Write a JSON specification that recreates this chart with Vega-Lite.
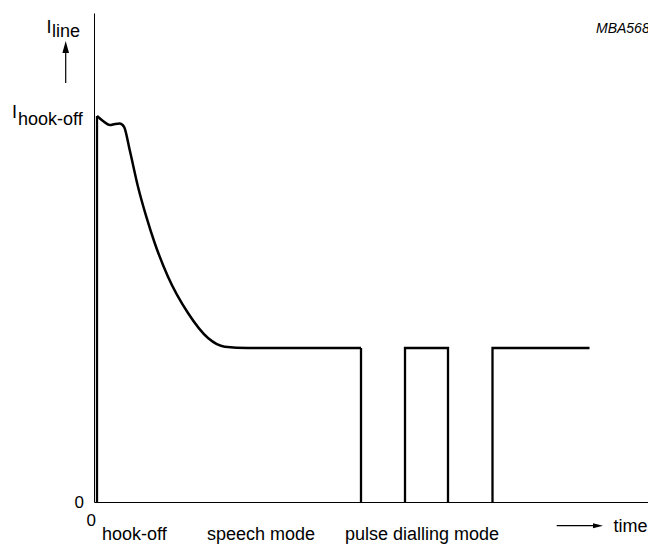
{
  "$schema": "https://vega.github.io/schema/vega-lite/v6.json",
  "autosize": "none",
  "width": 554,
  "height": 489,
  "padding": {"left": 94, "top": 13, "right": 0, "bottom": 42},
  "background": "white",
  "config": {
    "view": {"stroke": null},
    "font": "Liberation Sans",
    "text": {"font": "Liberation Sans", "color": "black"}
  },
  "datasets": {
    "signal": [
      {"seg": "rise", "order": 1, "t": 3, "i": 0},
      {"seg": "rise", "order": 2, "t": 3, "i": 386},
      {"seg": "curve", "order": 1, "t": 3, "i": 386},
      {"seg": "curve", "order": 2, "t": 9, "i": 381},
      {"seg": "curve", "order": 3, "t": 15.7, "i": 377},
      {"seg": "curve", "order": 4, "t": 21, "i": 378},
      {"seg": "curve", "order": 5, "t": 25.7, "i": 378.5},
      {"seg": "curve", "order": 6, "t": 30, "i": 375.3},
      {"seg": "curve", "order": 7, "t": 35.7, "i": 352},
      {"seg": "curve", "order": 8, "t": 44, "i": 315.3},
      {"seg": "curve", "order": 9, "t": 52.3, "i": 285.3},
      {"seg": "curve", "order": 10, "t": 60.7, "i": 259},
      {"seg": "curve", "order": 11, "t": 74, "i": 225.3},
      {"seg": "curve", "order": 12, "t": 94, "i": 189},
      {"seg": "curve", "order": 13, "t": 114, "i": 164},
      {"seg": "curve", "order": 14, "t": 130.7, "i": 155.3},
      {"seg": "curve", "order": 15, "t": 154, "i": 154},
      {"seg": "curve", "order": 16, "t": 267, "i": 154},
      {"seg": "p1", "order": 1, "t": 267, "i": 154},
      {"seg": "p1", "order": 2, "t": 267, "i": 0},
      {"seg": "p2", "order": 1, "t": 311, "i": 0},
      {"seg": "p2", "order": 2, "t": 311, "i": 154},
      {"seg": "p2", "order": 3, "t": 354, "i": 154},
      {"seg": "p2", "order": 4, "t": 354, "i": 0},
      {"seg": "p3", "order": 1, "t": 398.5, "i": 0},
      {"seg": "p3", "order": 2, "t": 398.5, "i": 154},
      {"seg": "p3", "order": 3, "t": 495.5, "i": 154}
    ],
    "labels": [
      {"label": "I", "t": -47.5, "i": 469.5},
      {"label": "line", "t": -42, "i": 465.5},
      {"label": "I", "t": -82, "i": 383.7},
      {"label": "hook-off", "t": -76, "i": 377},
      {"label": "hook-off", "t": 8, "i": -37.5},
      {"label": "speech mode", "t": 113, "i": -37.5},
      {"label": "pulse dialling mode", "t": 251, "i": -37.5},
      {"label": "time", "t": 519.5, "i": -29.7}
    ],
    "zeros": [
      {"label": "0", "t": -2.7, "i": -24, "axis": "x"},
      {"label": "0", "t": -10, "i": -0.5, "axis": "y"}
    ],
    "code": [
      {"label": "MBA568", "t": 502, "i": 468.7}
    ],
    "arrowsV": [
      {"t": -28.3, "i": 419, "i2": 452}
    ],
    "arrowsH": [
      {"t": 462.7, "t2": 501, "i": -23.7}
    ],
    "headUp": [
      {"t": -28.3, "i": 455}
    ],
    "headRight": [
      {"t": 504, "i": -23.7}
    ]
  },
  "layer": [
    {
      "data": {"name": "signal"},
      "transform": [{"filter": "datum.seg === 'curve'"}],
      "mark": {"type": "line", "interpolate": "monotone", "color": "black", "strokeWidth": 2.5, "clip": false},
      "encoding": {
        "x": {"field": "t", "type": "quantitative", "scale": {"domain": [0, 554], "nice": false, "zero": false},
          "axis": {"values": [0], "ticks": false, "labels": false, "grid": false, "title": null, "domainColor": "black", "domainWidth": 1}},
        "y": {"field": "i", "type": "quantitative", "scale": {"domain": [0, 489], "nice": false, "zero": false},
          "axis": {"values": [0], "ticks": false, "labels": false, "grid": false, "title": null, "domainColor": "black", "domainWidth": 1}},
        "order": {"field": "order"}
      }
    },
    {
      "data": {"name": "signal"},
      "transform": [{"filter": "datum.seg !== 'curve'"}],
      "mark": {"type": "line", "interpolate": "linear", "color": "black", "strokeWidth": 2.3, "clip": false},
      "encoding": {
        "x": {"field": "t", "type": "quantitative"},
        "y": {"field": "i", "type": "quantitative"},
        "detail": {"field": "seg"},
        "order": {"field": "order"}
      }
    },
    {
      "data": {"name": "labels"},
      "mark": {"type": "text", "align": "left", "baseline": "alphabetic", "fontSize": 18, "color": "black"},
      "encoding": {
        "x": {"field": "t", "type": "quantitative"},
        "y": {"field": "i", "type": "quantitative"},
        "text": {"field": "label"}
      }
    },
    {
      "data": {"name": "zeros"},
      "transform": [{"filter": "datum.axis === 'x'"}],
      "mark": {"type": "text", "align": "center", "baseline": "alphabetic", "fontSize": 17, "color": "black"},
      "encoding": {
        "x": {"field": "t", "type": "quantitative"},
        "y": {"field": "i", "type": "quantitative"},
        "text": {"field": "label"}
      }
    },
    {
      "data": {"name": "zeros"},
      "transform": [{"filter": "datum.axis === 'y'"}],
      "mark": {"type": "text", "align": "right", "baseline": "middle", "fontSize": 17, "color": "black"},
      "encoding": {
        "x": {"field": "t", "type": "quantitative"},
        "y": {"field": "i", "type": "quantitative"},
        "text": {"field": "label"}
      }
    },
    {
      "data": {"name": "code"},
      "mark": {"type": "text", "align": "left", "baseline": "alphabetic", "fontSize": 14, "fontStyle": "italic", "color": "black"},
      "encoding": {
        "x": {"field": "t", "type": "quantitative"},
        "y": {"field": "i", "type": "quantitative"},
        "text": {"field": "label"}
      }
    },
    {
      "data": {"name": "arrowsV"},
      "mark": {"type": "rule", "color": "black", "strokeWidth": 1.2},
      "encoding": {
        "x": {"field": "t", "type": "quantitative"},
        "y": {"field": "i", "type": "quantitative"},
        "y2": {"field": "i2"}
      }
    },
    {
      "data": {"name": "arrowsH"},
      "mark": {"type": "rule", "color": "black", "strokeWidth": 1.2},
      "encoding": {
        "x": {"field": "t", "type": "quantitative"},
        "x2": {"field": "t2"},
        "y": {"field": "i", "type": "quantitative"}
      }
    },
    {
      "data": {"name": "headUp"},
      "mark": {"type": "point", "shape": "M0,-1L0.55,1L-0.55,1Z", "size": 144, "filled": true, "color": "black", "opacity": 1},
      "encoding": {
        "x": {"field": "t", "type": "quantitative"},
        "y": {"field": "i", "type": "quantitative"}
      }
    },
    {
      "data": {"name": "headRight"},
      "mark": {"type": "point", "shape": "M1,0L-1,0.5L-1,-0.5Z", "size": 100, "filled": true, "color": "black", "opacity": 1},
      "encoding": {
        "x": {"field": "t", "type": "quantitative"},
        "y": {"field": "i", "type": "quantitative"}
      }
    }
  ]
}
